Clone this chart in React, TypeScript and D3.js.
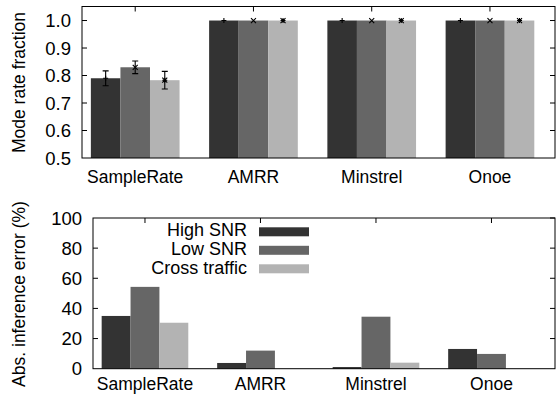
import React from "react";
import * as d3 from "d3";

const categories = ["SampleRate", "AMRR", "Minstrel", "Onoe"];
const seriesNames = ["High SNR", "Low SNR", "Cross traffic"];
const colors = ["#333333", "#666666", "#b3b3b3"];

// top panel: mode rate fraction
const modeHigh = [0.79, 1.0, 1.0, 1.0];
const modeLow = [0.83, 1.0, 1.0, 1.0];
const modeCross = [0.783, 1.0, 1.0, 1.0];
const errHigh = [0.027, 0, 0, 0];
const errLow = [0.023, 0, 0, 0];
const errCross = [0.032, 0, 0, 0];
const topTicks = [0.5, 0.6, 0.7, 0.8, 0.9, 1.0];

// bottom panel: abs inference error (%)
const absHigh = [35, 3.8, 1.1, 13.1];
const absLow = [54.3, 12, 34.5, 9.8];
const absCross = [30.5, 0, 4, 0];
const bottomTicks = [0, 20, 40, 60, 80, 100];

const FONT = "'Liberation Sans', Arial, Helvetica, sans-serif";
const FS = 17.5;
const TICK_FS = 18.5;
const BAR_W = 0.25;

function pointPath(kind: number, cx: number, cy: number, s: number) {
  if (kind === 0) return `M${cx - s},${cy}H${cx + s}M${cx},${cy - s}V${cy + s}`;
  if (kind === 1) return `M${cx - s},${cy - s}L${cx + s},${cy + s}M${cx - s},${cy + s}L${cx + s},${cy - s}`;
  return `M${cx - s},${cy}H${cx + s}M${cx},${cy - s}V${cy + s}M${cx - s},${cy - s}L${cx + s},${cy + s}M${cx - s},${cy + s}L${cx + s},${cy - s}`;
}

function Panel(props: {
  left: number; right: number; top: number; bottom: number;
  domain: [number, number]; ticks: number[]; fmt: (v: number) => string;
  series: number[][]; errs?: number[][]; ylabel: string; ylabelY: number;
  xlabelY: number; legend?: boolean;
}) {
  const { left, right, top, bottom, domain, ticks, fmt, series, errs, ylabel, ylabelY, xlabelY, legend } = props;
  const x = d3.scaleLinear().domain([-0.45, 3.55]).range([left, right]);
  const y = d3.scaleLinear().domain(domain).range([bottom, top]);
  const bw = x(BAR_W) - x(0);
  return (
    <g>
      {series.map((vals, si) =>
        vals.map((v, ci) => {
          const cx = x(ci + (si - 1) * BAR_W);
          return (
            <rect key={`b${si}-${ci}`} x={cx - bw / 2} y={y(v)} width={bw}
              height={Math.max(0, y(domain[0]) - y(v))} fill={colors[si]} />
          );
        })
      )}
      {errs && series.map((vals, si) =>
        vals.map((v, ci) => {
          const cx = x(ci + (si - 1) * BAR_W);
          const e = errs[si][ci];
          const y1 = y(v + e), y2 = y(v - e), cy = y(v);
          return (
            <g key={`e${si}-${ci}`} stroke="#000" strokeWidth={1.1} fill="none">
              {e > 0 && <path d={`M${cx},${y1}V${y2}M${cx - 3},${y1}H${cx + 3}M${cx - 3},${y2}H${cx + 3}`} />}
              <path d={pointPath(si, cx, cy, 2.5)} />
            </g>
          );
        })
      )}
      {/* frame */}
      <rect x={left} y={top} width={right - left} height={bottom - top} fill="none" stroke="#000" strokeWidth={1} />
      {/* y ticks */}
      {ticks.map((t) => (
        <g key={`t${t}`}>
          {t !== domain[0] && t !== domain[1] && (
            <>
              <line x1={left} x2={left + 5} y1={y(t)} y2={y(t)} stroke="#000" />
              <line x1={right} x2={right - 5} y1={y(t)} y2={y(t)} stroke="#000" />
            </>
          )}
          {t === domain[1] && (
            <line x1={right} x2={right - 5} y1={y(t)} y2={y(t)} stroke="#000" />
          )}
          <text x={left - 11} y={y(t)} dy="0.36em" textAnchor="end" fontFamily={FONT} fontSize={TICK_FS} fill="#000">
            {fmt(t)}
          </text>
        </g>
      ))}
      {/* x ticks (top) and labels */}
      {categories.map((c, ci) => (
        <g key={c}>
          <line x1={x(ci)} x2={x(ci)} y1={top} y2={top + 5} stroke="#000" />
          <text x={x(ci)} y={xlabelY} textAnchor="middle" fontFamily={FONT} fontSize={FS} fill="#000">{c}</text>
        </g>
      ))}
      <text transform={`translate(25,${ylabelY}) rotate(-90)`} textAnchor="middle" fontFamily={FONT} fontSize={FS} fill="#000">
        {ylabel}
      </text>
      {legend && seriesNames.map((n, si) => (
        <g key={n}>
          <text x={247} y={235.5 + si * 19.3} textAnchor="end" fontFamily={FONT} fontSize={18} fill="#000">{n}</text>
          <rect x={259} y={227.3 + si * 18.5} width={50} height={9} fill={colors[si]} />
        </g>
      ))}
    </g>
  );
}

export default function App() {
  return (
    <svg width={556} height={399} style={{ position: "absolute", left: 0, top: 0, background: "#fff" }}>
      <rect width={556} height={399} fill="#fff" />
      <Panel left={82} right={555} top={6.5} bottom={158} domain={[0.5, 1.051]}
        ticks={topTicks} fmt={(v) => v.toFixed(1)}
        series={[modeHigh, modeLow, modeCross]} errs={[errHigh, errLow, errCross]}
        ylabel="Mode rate fraction" ylabelY={82.5} xlabelY={182.5} />
      <Panel left={93} right={555} top={218} bottom={368.7} domain={[0, 100]}
        ticks={bottomTicks} fmt={(v) => String(v)}
        series={[absHigh, absLow, absCross]}
        ylabel="Abs. inference error (%)" ylabelY={294} xlabelY={390} legend />
    </svg>
  );
}
